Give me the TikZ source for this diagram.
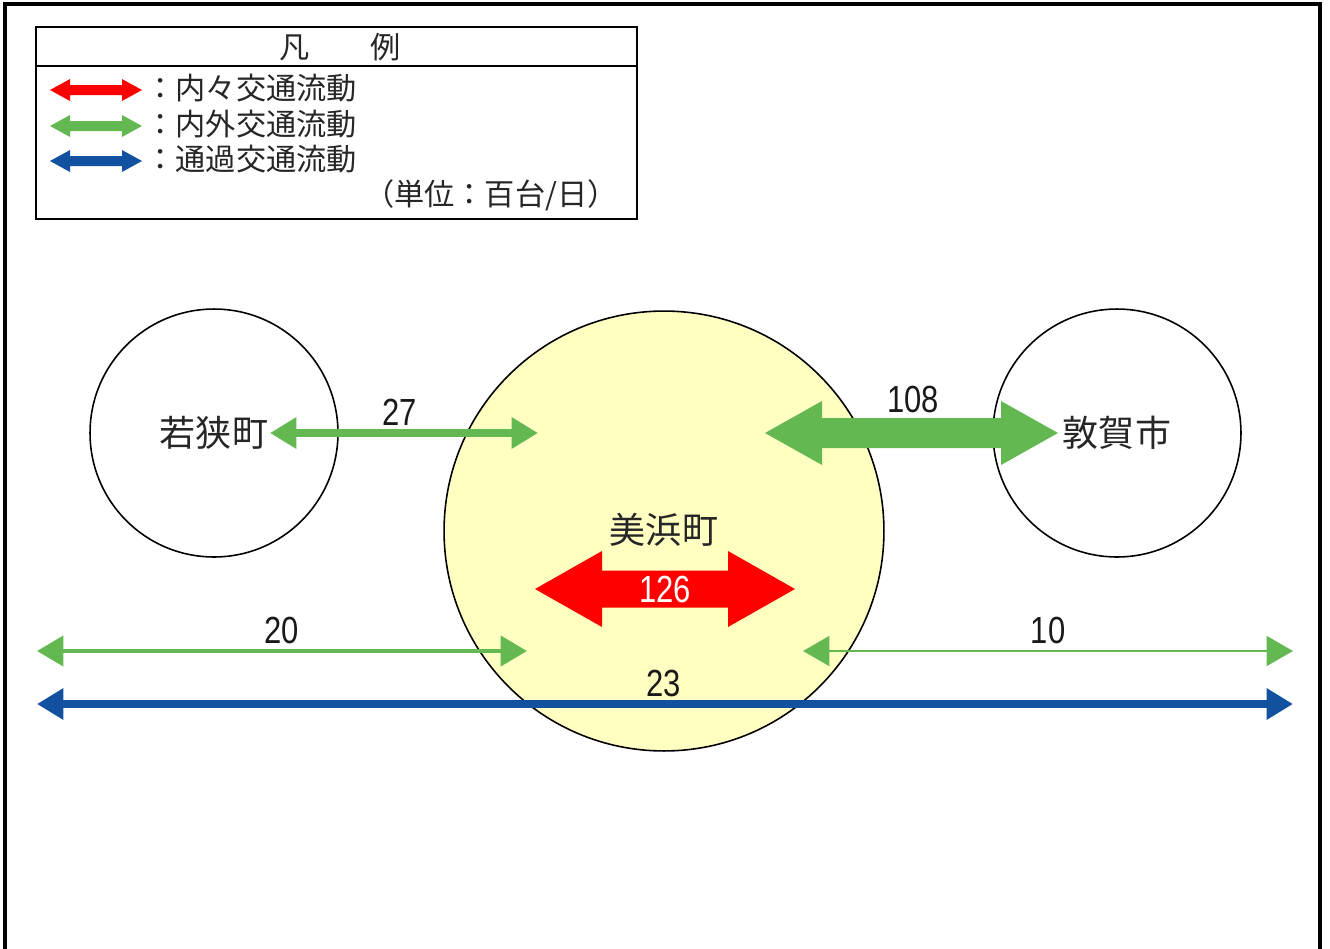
\documentclass[tikz,border=0pt]{standalone}
\usepackage{fontspec}
\setmainfont{Noto Sans CJK JP}
\newfontfamily\numfont[FakeStretch=0.82]{Liberation Sans}
\usetikzlibrary{arrows.meta}
\definecolor{flowgreen}{RGB}{100,184,82}
\definecolor{flowred}{RGB}{255,0,0}
\definecolor{flowblue}{RGB}{18,80,160}
\definecolor{townfill}{RGB}{255,255,194}
\newcommand\flowblock[7]{%
  \fill[#7] (#1,#3) -- (#1+#6,#3-#5) -- (#1+#6,#3-#4) -- (#2-#6,#3-#4) -- (#2-#6,#3-#5)
    -- (#2,#3) -- (#2-#6,#3+#5) -- (#2-#6,#3+#4) -- (#1+#6,#3+#4) -- (#1+#6,#3+#5) -- cycle;}
\begin{document}
\begin{tikzpicture}[x=0.02cm,y=-0.02cm,
  town/.style={circle, draw=black, line width=0.9pt, inner sep=0pt,
    font=\fontsize{20.5}{22}\selectfont, text=black!85},
  numlabel/.style={font=\numfont\fontsize{21.5}{21.5}\selectfont, text=black!90, inner sep=0pt},
  legtext/.style={font=\fontsize{17.2}{18}\selectfont, inner sep=0pt, text=black!85},
  thinflow/.style={{Triangle[length=15pt,width=17pt]}-{Triangle[length=15pt,width=17pt]}}
]
\useasboundingbox (0,0) rectangle (1330,948);
% outer frame
\draw[line width=1.8pt] (5,950) -- (5,4) -- (1320,4) -- (1320,950);

% legend
\draw[line width=0.9pt] (36,27) rectangle (637,219);
\draw[line width=0.9pt] (36,66) -- (637,66);
\node[legtext] (legtitle) at (340,47) {凡　　例};
\flowblock{50}{142}{90}{5}{11}{20}{flowred}
\flowblock{50}{142}{126}{5}{11}{20}{flowgreen}
\flowblock{50}{142}{161}{5}{11}{20}{flowblue}
\node[legtext, anchor=west] (leg1) at (145,88) {：内々交通流動};
\node[legtext, anchor=west] (leg2) at (145,124) {：内外交通流動};
\node[legtext, anchor=west] (leg3) at (145,159) {：通過交通流動};
\node[legtext, anchor=east] (unit) at (618,195) {（単位：百台/日）};

% towns
\node[town, minimum size=4.96cm] (wakasa) at (214,433) {若狭町};
\node[town, minimum size=4.96cm] (tsuruga) at (1117,433) {敦賀市};
\node[town, minimum size=8.8cm, fill=townfill] (mihama) at (664,531) {\raisebox{3pt}{美浜町}};

% flow end points
\coordinate (a27l) at (270,433);
\coordinate (a27r) at (538,433);
\coordinate (a20l) at (37,651);
\coordinate (a20r) at (527,651);
\coordinate (a10l) at (803,651);
\coordinate (a10r) at (1293,651);
\coordinate (a23l) at (37,704);
\coordinate (a23r) at (1293,704);

% flows
\draw[flowgreen, line width=4pt, thinflow] (a27l) -- (a27r);
\draw[flowgreen, line width=2.6pt, thinflow] (a20l) -- (a20r);
\draw[flowgreen, line width=1.1pt, thinflow] (a10l) -- (a10r);
\draw[flowblue, line width=4pt, thinflow] (a23l) -- (a23r);
\flowblock{765}{1058}{433}{15}{32}{57}{flowgreen}
\flowblock{535}{795}{589}{18.5}{38}{67}{flowred}

% labels
\node[numlabel] (n27) at (400,412) {27};
\node[numlabel] (n108) at (913,399) {108};
\node[numlabel, text=white] (n126) at (665,589) {126};
\node[numlabel] (n20) at (282,630) {20};
\node[numlabel] (n10) at (1048,630) {10};
\node[numlabel] (n23) at (664,683) {23};
\end{tikzpicture}
\end{document}
